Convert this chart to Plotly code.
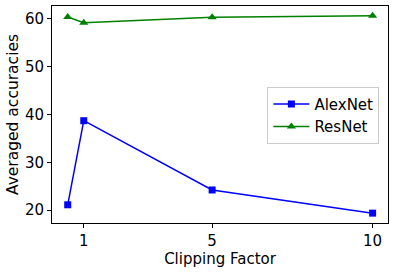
import plotly.graph_objects as go

clip = [0.5, 1, 5, 10]
alexnet = [21.1, 38.7, 24.2, 19.35]
resnet = [60.4, 59.2, 60.35, 60.65]
xticks = [1, 5, 10]
yticks = [20, 30, 40, 50, 60]

FONT = "DejaVu Sans"
FS = 15

fig = go.Figure()
fig.add_trace(go.Scatter(x=clip, y=alexnet, name="AlexNet", mode="lines+markers",
                         line=dict(color="#0000ff", width=1.5),
                         marker=dict(symbol="square", size=7, color="#0000ff")))
fig.add_trace(go.Scatter(x=clip, y=resnet, name="ResNet", mode="lines+markers",
                         line=dict(color="#008000", width=1.5),
                         marker=dict(symbol="triangle-up", size=8, color="#008000")))

axis_common = dict(showline=True, linecolor="black", linewidth=1, mirror=True,
                   ticks="outside", ticklen=4, tickcolor="black", tickwidth=1,
                   showgrid=False, zeroline=False, automargin=False,
                   tickfont=dict(family=FONT, size=FS, color="black"))

fig.update_layout(
    width=394, height=272,
    margin=dict(l=52, r=6, t=6, b=49),
    paper_bgcolor="white", plot_bgcolor="white",
    font=dict(family=FONT, size=FS, color="black"),
    xaxis=dict(range=[0.01, 10.48], tickvals=xticks,
               title=dict(text="Clipping Factor", font=dict(family=FONT, size=FS), standoff=4),
               **axis_common),
    yaxis=dict(range=[17.285, 62.715], tickvals=yticks,
               title=dict(text="Averaged accuracies", font=dict(family=FONT, size=FS + 0.5), standoff=2),
               **axis_common),
    legend=dict(x=0.641, y=0.628, xanchor="left", yanchor="top",
                bgcolor="rgba(255,255,255,0.8)", bordercolor="#cccccc", borderwidth=1,
                font=dict(family=FONT, size=FS, color="black"),
                itemwidth=36, tracegroupgap=0),
    showlegend=True,
)

fig.write_html("out.html", config={"displayModeBar": False},
               post_script="document.body.style.margin='0';document.body.style.overflow='hidden';")
